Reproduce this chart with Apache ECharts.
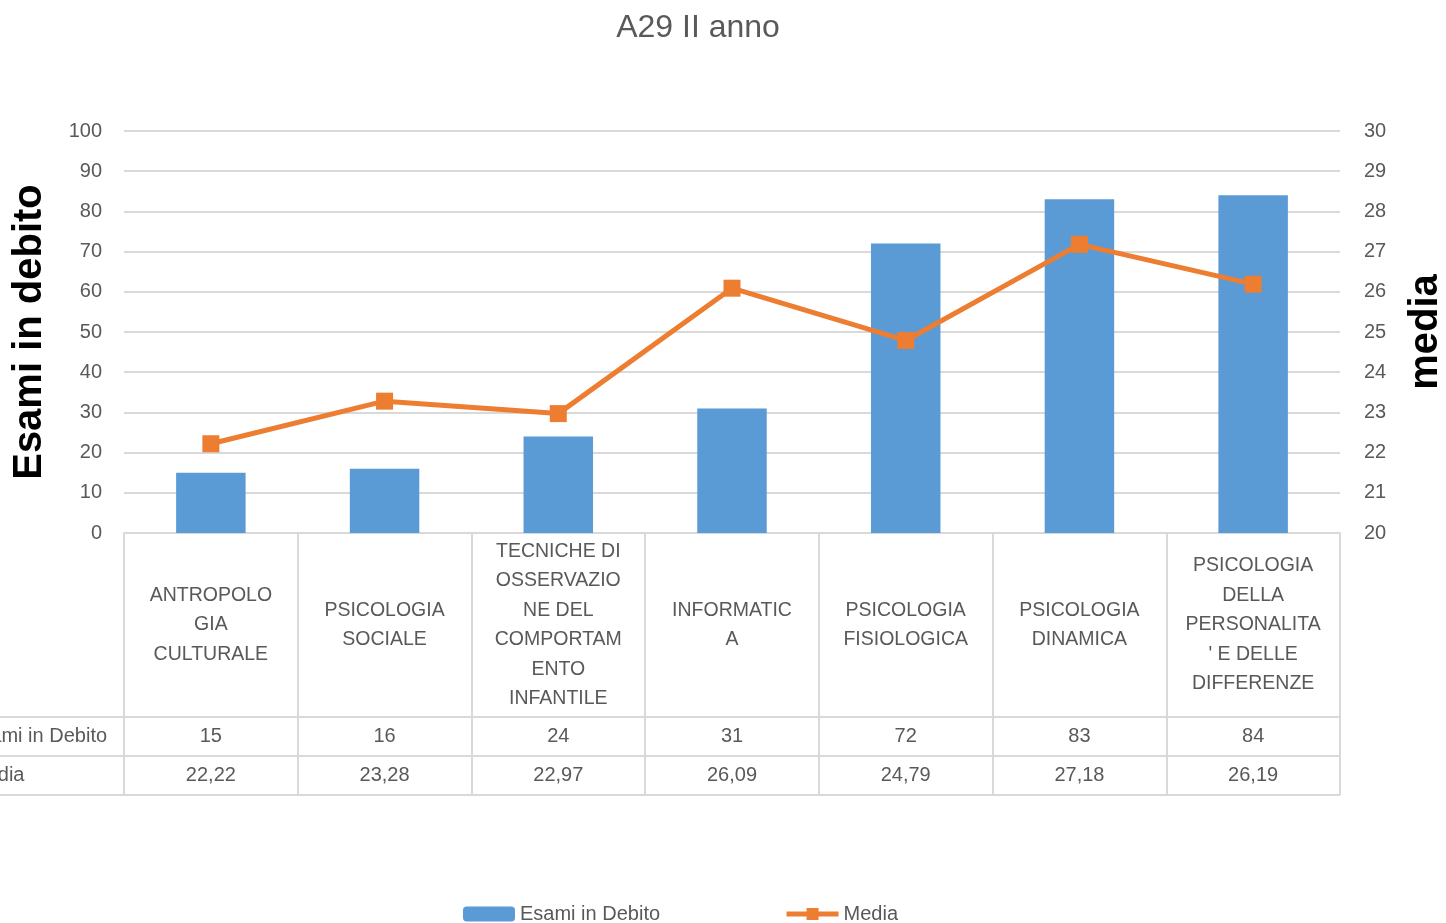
<!DOCTYPE html>
<html>
<head>
<meta charset="utf-8">
<script src="https://cdn.jsdelivr.net/npm/echarts@6/dist/echarts.min.js"></script>
<style>
  html, body { margin: 0; padding: 0; background: #fff; }
  #main { width: 1446px; height: 923px; }
</style>
</head>
<body>
<div id="main"></div>
<script>
// categories as wrapped in the table header cells
var categories = [
  'ANTROPOLO\nGIA\nCULTURALE',
  'PSICOLOGIA\nSOCIALE',
  'TECNICHE DI\nOSSERVAZIO\nNE DEL\nCOMPORTAM\nENTO\nINFANTILE',
  'INFORMATIC\nA',
  'PSICOLOGIA\nFISIOLOGICA',
  'PSICOLOGIA\nDINAMICA',
  'PSICOLOGIA\nDELLA\nPERSONALITA\n\' E DELLE\nDIFFERENZE'
];
var esamiInDebito = [15, 16, 24, 31, 72, 83, 84];
var media = [22.22, 23.28, 22.97, 26.09, 24.79, 27.18, 26.19];

var GREY = '#595959';
var LINE = '#D9D9D9';
var FONT = '"Liberation Sans", Arial, sans-serif';

// grid box (table sits under it)
var gridLeft = 124, gridRight = 106, gridTop = 131, axisY = 533;
var headerH = 184, rowH = 39;

function fmt(v) { return v.toFixed(2).replace('.', ','); }

var chart = echarts.init(document.getElementById('main'));

chart.setOption({
  textStyle: { fontFamily: FONT },
  title: {
    text: 'A29 II anno',
    left: 693,
    textAlign: 'center',
    top: 7,
    textStyle: { color: GREY, fontSize: 32, fontWeight: 'normal', fontFamily: FONT }
  },
  legend: {
    left: 458,
    top: 899,
    itemWidth: 52,
    itemHeight: 15,
    itemGap: 124,
    textStyle: { color: GREY, fontSize: 20, fontFamily: FONT },
    lineStyle: { width: 5 },
    data: ['Esami in Debito', 'Media']
  },
  grid: {
    left: gridLeft,
    right: gridRight,
    top: gridTop,
    bottom: 923 - axisY,
    outerBoundsMode: 'none'
  },
  xAxis: [
    {
      type: 'category',
      data: categories,
      axisLine: { lineStyle: { color: LINE, width: 2 } },
      axisTick: { show: true, interval: 0, length: headerH + 2 * rowH, lineStyle: { color: LINE, width: 2 } },
      axisLabel: {
        interval: 0, margin: headerH / 2, verticalAlign: 'middle', align: 'center',
        color: GREY, fontSize: 19.5, lineHeight: 29.5, fontFamily: FONT
      }
    },
    {
      type: 'category',
      data: esamiInDebito.map(String),
      position: 'bottom',
      offset: headerH + rowH / 2,
      axisLine: { show: false },
      axisTick: { show: false },
      axisLabel: { interval: 0, margin: 0, verticalAlign: 'middle', color: GREY, fontSize: 20, fontFamily: FONT },
      name: 'Esami in Debito',
      nameLocation: 'start',
      nameGap: gridLeft + 33,
      nameTextStyle: { align: 'left', verticalAlign: 'middle', color: GREY, fontSize: 20, fontFamily: FONT }
    },
    {
      type: 'category',
      data: media.map(fmt),
      position: 'bottom',
      offset: headerH + rowH + rowH / 2,
      axisLine: { show: false },
      axisTick: { show: false },
      axisLabel: { interval: 0, margin: 0, verticalAlign: 'middle', color: GREY, fontSize: 20, fontFamily: FONT },
      name: 'Media',
      nameLocation: 'start',
      nameGap: gridLeft + 30,
      nameTextStyle: { align: 'left', verticalAlign: 'middle', color: GREY, fontSize: 20, fontFamily: FONT }
    }
  ],
  yAxis: [
    {
      type: 'value',
      min: 0, max: 100, interval: 10,
      name: 'Esami in debito',
      nameLocation: 'middle',
      nameRotate: 90,
      nameGap: 74,
      nameTextStyle: { color: '#000', fontSize: 40, fontWeight: 'bold', fontFamily: FONT },
      axisLine: { show: false },
      axisTick: { show: false },
      axisLabel: { color: GREY, fontSize: 20, margin: 22, fontFamily: FONT },
      splitLine: { lineStyle: { color: LINE, width: 2 } }
    },
    {
      type: 'value',
      min: 20, max: 30, interval: 1,
      name: 'media',
      nameLocation: 'middle',
      nameRotate: 90,
      nameGap: 66,
      nameTextStyle: { color: '#000', fontSize: 40, fontWeight: 'bold', fontFamily: FONT },
      axisLine: { show: false },
      axisTick: { show: false },
      axisLabel: { color: GREY, fontSize: 20, margin: 24, fontFamily: FONT },
      splitLine: { show: false }
    }
  ],
  series: [
    {
      name: 'Esami in Debito',
      type: 'bar',
      barWidth: '40%',
      itemStyle: { color: '#5B9BD5' },
      data: esamiInDebito
    },
    {
      name: 'Media',
      type: 'line',
      yAxisIndex: 1,
      symbol: 'rect',
      symbolSize: 17,
      lineStyle: { color: '#ED7D31', width: 5 },
      itemStyle: { color: '#ED7D31' },
      data: media
    }
  ],
  graphic: [axisY + headerH, axisY + headerH + rowH, axisY + headerH + 2 * rowH].map(function (y) {
    return {
      type: 'line',
      shape: { x1: 0, y1: y, x2: 1446 - gridRight, y2: y },
      style: { stroke: LINE, lineWidth: 2 },
      silent: true
    };
  })
});
</script>
</body>
</html>
